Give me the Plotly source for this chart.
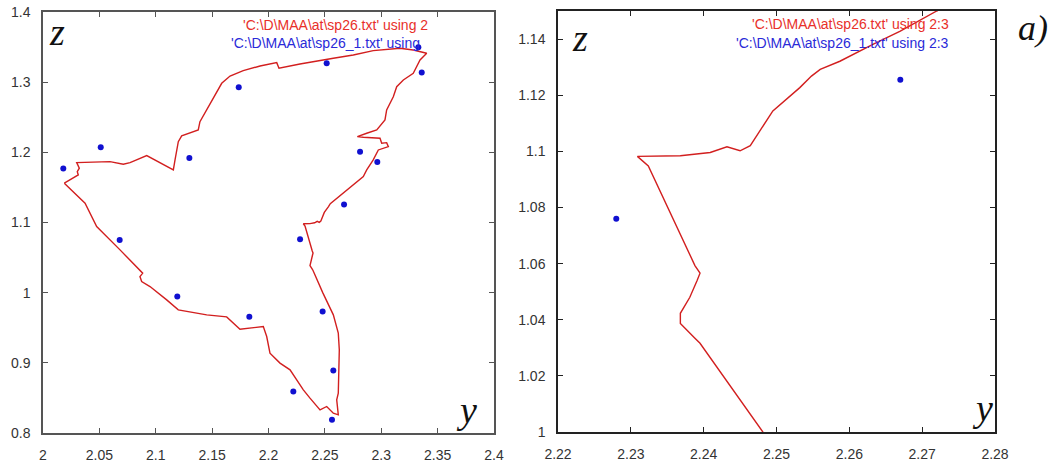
import plotly.graph_objects as go

# Contour of the section (sp26.txt, columns 2:3): horizontal coordinate y, vertical z
curve_y = [2.0189, 2.0313, 2.0304, 2.0322, 2.0299, 2.0594, 2.0712, 2.0772, 2.0920, 2.0964,
           2.1156, 2.1171, 2.1200, 2.1230, 2.1377, 2.1392, 2.1466, 2.1541, 2.1585, 2.1659,
           2.1776, 2.1925, 2.2073, 2.2093, 2.2279, 2.2575, 2.2752, 2.2929, 2.3166, 2.3284,
           2.3403, 2.3344, 2.3284, 2.3196, 2.3137, 2.3107, 2.3048, 2.3033, 2.2960, 2.2871,
           2.2788, 2.2841, 2.2989, 2.3004, 2.3048, 2.3063, 2.2974, 2.2929, 2.2871, 2.2841,
           2.2720, 2.2670, 2.2633, 2.2587, 2.2560, 2.2548, 2.2532, 2.2495, 2.2468, 2.2464,
           2.2450, 2.2432, 2.2409, 2.2368, 2.2309, 2.2324, 2.2388, 2.2395, 2.2391, 2.2381,
           2.2368, 2.2368, 2.2388, 2.2395, 2.2481, 2.2575, 2.2619, 2.2628, 2.2619, 2.2605,
           2.2619, 2.2575, 2.2516, 2.2457, 2.2368, 2.2309, 2.2191, 2.2102, 2.2013, 2.1984,
           2.1954, 2.1747, 2.1629, 2.1452, 2.1200, 2.1097, 2.0949, 2.0875, 2.0860, 2.0884,
           2.0683, 2.0476, 2.0373, 2.0189]
curve_z = [1.1560, 1.1678, 1.1725, 1.1774, 1.1853, 1.1868, 1.1831, 1.1853, 1.1953, 1.1916,
           1.1749, 1.1892, 1.2152, 1.2234, 1.2319, 1.2437, 1.2651, 1.2865, 1.2984, 1.3088,
           1.3164, 1.3231, 1.3278, 1.3198, 1.3259, 1.3340, 1.3387, 1.3449, 1.3483, 1.3459,
           1.3412, 1.3316, 1.3127, 1.3031, 1.2936, 1.2793, 1.2604, 1.2462, 1.2319, 1.2272,
           1.2224, 1.2215, 1.2201, 1.2130, 1.2138, 1.2081, 1.2034, 1.1892, 1.1749, 1.1654,
           1.1500, 1.1428, 1.1382, 1.1321, 1.1292, 1.1268, 1.1227, 1.1144, 1.1037, 1.1020,
           1.1002, 1.1016, 1.0996, 1.0984, 1.0982, 1.0948, 1.0593, 1.0566, 1.0540, 1.0480,
           1.0423, 1.0387, 1.0334, 1.0316, 1.0001, 0.9684, 0.9423, 0.9185, 0.8568, 0.8473,
           0.8259, 0.8283, 0.8378, 0.8330, 0.8497, 0.8615, 0.8900, 0.8996, 0.9138, 0.9375,
           0.9517, 0.9480, 0.9655, 0.9684, 0.9755, 0.9897, 1.0087, 1.0158, 1.0229, 1.0278,
           1.0610, 1.0942, 1.1275, 1.1560]

# Nodes (sp26_1.txt, columns 2:3)
pts_y = [2.0180, 2.0512, 2.1298, 2.0680, 2.1191, 2.1736, 2.2516, 2.3329, 2.3359,
         2.2812, 2.2965, 2.2670, 2.2280, 2.1830, 2.2480, 2.2575, 2.2220, 2.2563]
pts_z = [1.1768, 1.2073, 1.1920, 1.0750, 0.9944, 1.2927, 1.3269, 1.3497, 1.3136,
         1.2010, 1.1863, 1.1255, 1.0760, 0.9655, 0.9730, 0.8890, 0.8590, 0.8188]

# Axis ranges and ticks
left_xrange, left_zrange = [2.0, 2.4], [0.8, 1.4]
left_dx, left_dz = 0.05, 0.1
right_xrange, right_zrange = [2.22, 2.28], [1.0, 1.15]
right_dx, right_dz = 0.01, 0.02

legend_left = [r"'C:\D\MAA\at\sp26.txt' using 2", r"'C:\D\MAA\at\sp26_1.txt' using"]
legend_right = [r"'C:\D\MAA\at\sp26.txt' using 2:3", r"'C:\D\MAA\at\sp26_1.txt' using 2:3"]

RED = "#d21f1f"
BLUE = "#1010d0"
W, H = 1051, 462

fig = go.Figure()
for xa, ya in (("x", "y"), ("x2", "y2")):
    fig.add_trace(go.Scatter(x=curve_y, y=curve_z, mode="lines", xaxis=xa, yaxis=ya,
                             line=dict(color=RED, width=1.4), showlegend=False))
    fig.add_trace(go.Scatter(x=pts_y, y=pts_z, mode="markers", xaxis=xa, yaxis=ya,
                             marker=dict(color=BLUE, size=6), showlegend=False))


def px_x(p):
    return p / W


def px_y(p):
    return 1 - p / H


tickfont = dict(family="Liberation Sans, Arial, sans-serif", size=14, color="#333333")


def axis(dom, rng, dtick, color, anchor):
    return dict(domain=dom, range=rng, dtick=dtick, tick0=rng[0], showgrid=False,
                zeroline=False, showline=True, linecolor=color, linewidth=1.5,
                mirror="ticks", ticks="inside", ticklen=5, tickcolor=color,
                tickwidth=1.2, tickfont=tickfont, anchor=anchor, ticklabelstandoff=8,
                automargin=False)


fig.update_layout(
    width=W, height=H, margin=dict(l=0, r=0, t=0, b=0),
    paper_bgcolor="white", plot_bgcolor="white",
    xaxis=axis([px_x(43), px_x(494)], left_xrange, left_dx, "#555555", "y"),
    yaxis=axis([px_y(433), px_y(12)], left_zrange, left_dz, "#555555", "x"),
    xaxis2=axis([px_x(558), px_x(995)], right_xrange, right_dx, "#222222", "y2"),
    yaxis2=axis([px_y(432), px_y(11)], right_zrange, right_dz, "#222222", "x2"),
)

legfont = dict(family="Liberation Sans, Arial, sans-serif", size=14)
serif = "Liberation Serif, Times New Roman, serif"
ann = []
ann.append(dict(x=px_x(430), y=px_y(25), text=legend_left[0], font=dict(color="#e8302a", **legfont)))
ann.append(dict(x=px_x(422), y=px_y(43), text=legend_left[1], font=dict(color="#2a2ad8", **legfont)))
ann.append(dict(x=px_x(951), y=px_y(24), text=legend_right[0], font=dict(color="#e8302a", **legfont)))
ann.append(dict(x=px_x(951), y=px_y(43), text=legend_right[1], font=dict(color="#2a2ad8", **legfont)))
for a in ann:
    a.update(xref="paper", yref="paper", xanchor="right", yanchor="middle", showarrow=False)

labels = [("<i>z</i>", 57, 32, 38, "center"), ("<i>y</i>", 466, 410, 38, "center"),
          ("<i>z</i>", 580, 38, 38, "center"), ("<i>y</i>", 982, 408, 38, "center")]
for text, x, y, size, anchor in labels:
    ann.append(dict(x=px_x(x), y=px_y(y), xref="paper", yref="paper", text=text,
                    showarrow=False, xanchor=anchor, yanchor="middle",
                    font=dict(family=serif, size=size, color="#111111")))
# panel tag in the top-right corner
ann.append(dict(x=1.0, y=px_y(28), xref="paper", yref="paper", text="<i>a)</i>",
                showarrow=False, xanchor="right", yanchor="middle", xshift=-1,
                font=dict(family=serif, size=36, color="#111111")))

fig.update_layout(annotations=ann)
fig.write_html("out.html")
